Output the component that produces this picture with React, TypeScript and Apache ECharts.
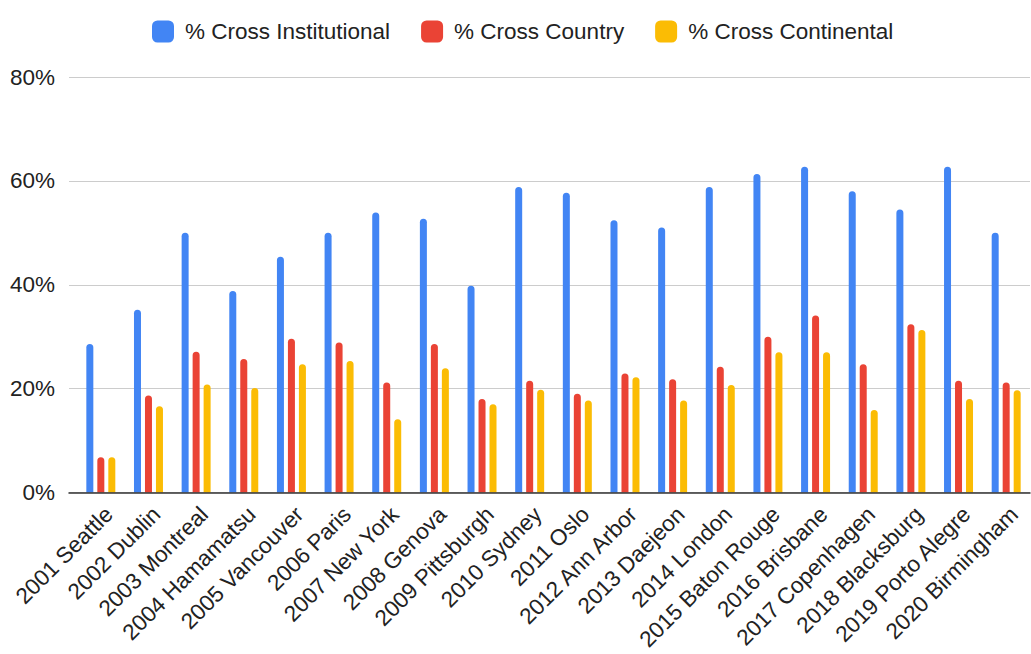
import React, { useEffect, useRef } from "react";
import * as echarts from "echarts";

const categories = [
  "2001 Seattle",
  "2002 Dublin",
  "2003 Montreal",
  "2004 Hamamatsu",
  "2005 Vancouver",
  "2006 Paris",
  "2007 New York",
  "2008 Genova",
  "2009 Pittsburgh",
  "2010 Sydney",
  "2011 Oslo",
  "2012 Ann Arbor",
  "2013 Daejeon",
  "2014 London",
  "2015 Baton Rouge",
  "2016 Brisbane",
  "2017 Copenhagen",
  "2018 Blacksburg",
  "2019 Porto Alegre",
  "2020 Birmingham",
];

const crossInstitutional = [
  28.6, 35.2, 50.0, 38.8, 45.4, 50.0, 53.9, 52.7, 39.8, 58.8, 57.7, 52.4, 51.0,
  58.8, 61.3, 62.7, 58.0, 54.5, 62.7, 50.0,
];
const crossCountry = [
  6.8, 18.7, 27.1, 25.7, 29.6, 28.9, 21.2, 28.6, 18.0, 21.5, 19.0, 22.9, 21.8,
  24.2, 30.0, 34.1, 24.7, 32.4, 21.5, 21.2,
];
const crossContinental = [
  6.8, 16.6, 20.8, 20.1, 24.7, 25.3, 14.1, 23.9, 17.0, 19.8, 17.7, 22.2, 17.7,
  20.7, 27.0, 27.0, 15.9, 31.3, 18.0, 19.7,
];

const yTicks = [0, 20, 40, 60, 80];

const FONT = "Arial, 'Liberation Sans', sans-serif";

export default function App() {
  const ref = useRef<HTMLDivElement>(null);

  useEffect(() => {
    if (!ref.current) return;
    const chart = echarts.init(ref.current, undefined, { renderer: "svg" });

    const barStyle = (color: string) => ({
      type: "bar" as const,
      xAxisIndex: 1,
      yAxisIndex: 1,
      barWidth: 7,
      barGap: "57%",
      itemStyle: { color, borderRadius: [4, 4, 0, 0] },
    });

    chart.setOption({
      animation: false,
      backgroundColor: "#ffffff",
      textStyle: { fontFamily: FONT },
      legend: {
        left: 147,
        top: 15,
        itemWidth: 22,
        itemHeight: 22,
        itemGap: 31,
        icon: "roundRect",
        textStyle: { fontSize: 22.5, color: "#222222", fontFamily: FONT, padding: [0, 0, 0, 6] },
        data: ["% Cross Institutional", "% Cross Country", "% Cross Continental"],
      },
      grid: [
        { left: 69, right: 1, top: 77, bottom: 161.5, containLabel: false },
        { left: 77, right: 1, top: 77, bottom: 161.5, containLabel: false },
      ],
      xAxis: [
        {
          type: "category",
          gridIndex: 0,
          data: categories,
          axisLine: { show: true, lineStyle: { color: "#333333", width: 1.5 } },
          axisTick: { show: false },
          axisLabel: { show: false },
          splitLine: { show: false },
          z: 5,
        },
        {
          type: "category",
          gridIndex: 1,
          data: categories,
          axisLine: { show: false },
          axisTick: { show: false },
          axisLabel: {
            rotate: 45,
            fontSize: 22.5,
            color: "#222222",
            fontFamily: FONT,
            interval: 0,
            margin: 10,
            verticalAlign: "top",
          },
        },
      ],
      yAxis: [
        {
          type: "value",
          gridIndex: 0,
          min: yTicks[0],
          max: yTicks[yTicks.length - 1],
          interval: 20,
          axisLine: { show: false },
          axisTick: { show: false },
          axisLabel: {
            formatter: "{value}%",
            fontSize: 22.5,
            color: "#222222",
            fontFamily: FONT,
            margin: 14,
          },
          splitLine: { lineStyle: { color: "#cccccc", width: 1 } },
        },
        {
          type: "value",
          gridIndex: 1,
          min: yTicks[0],
          max: yTicks[yTicks.length - 1],
          interval: 20,
          axisLine: { show: false },
          axisTick: { show: false },
          axisLabel: { show: false },
          splitLine: { show: false },
        },
      ],
      series: [
        { name: "% Cross Institutional", data: crossInstitutional, ...barStyle("#4285F4") },
        { name: "% Cross Country", data: crossCountry, ...barStyle("#EA4335") },
        { name: "% Cross Continental", data: crossContinental, ...barStyle("#FBBC04") },
      ],
    });

    return () => chart.dispose();
  }, []);

  return (
    <div
      ref={ref}
      style={{ position: "fixed", left: 0, top: 0, width: 1031, height: 654 }}
    />
  );
}
